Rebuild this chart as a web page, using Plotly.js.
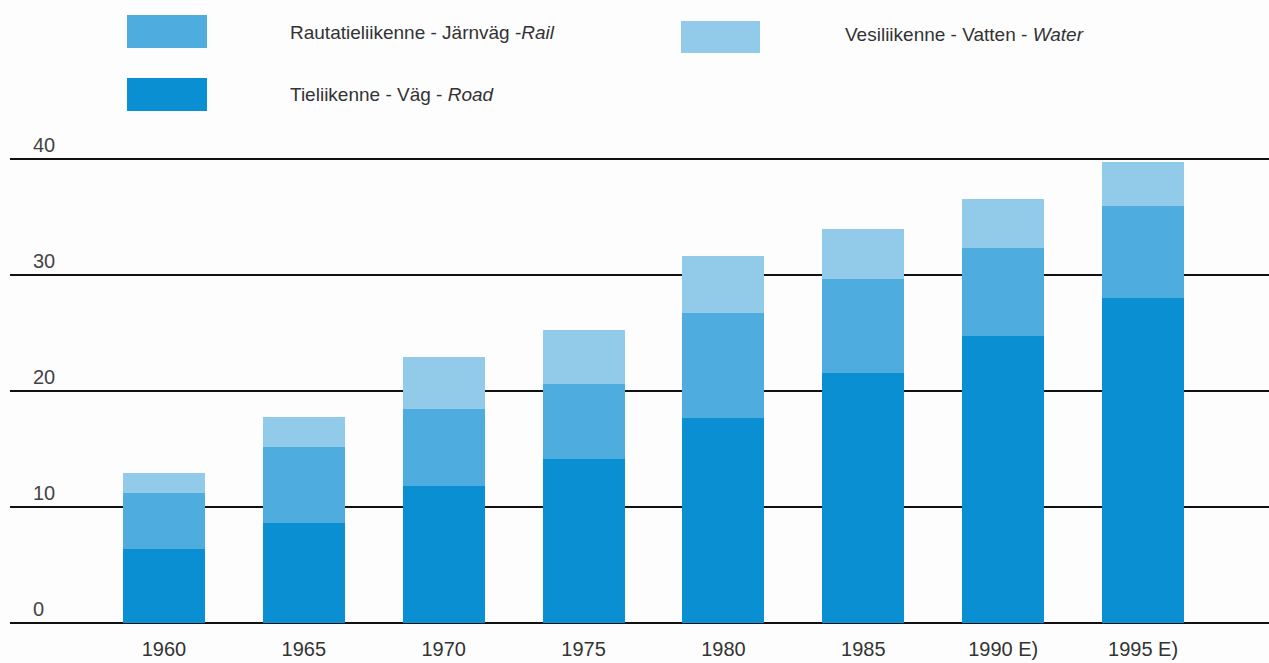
<!DOCTYPE html>
<html>
<head>
<meta charset="utf-8">
<script src="https://cdn.plot.ly/plotly-3.0.1.min.js"></script>
<style>html,body{margin:0;padding:0;background:#fff;}#chart{width:1269px;height:663px;}</style>
</head>
<body>
<div id="chart"></div>
<script>
// Data
const years = ["1960", "1965", "1970", "1975", "1980", "1985", "1990 E)", "1995 E)"];
const road  = [6.3, 8.6, 11.8, 14.1, 17.6, 21.5, 24.7, 28.0];
const rail  = [4.9, 6.5, 6.6, 6.5, 9.1, 8.1, 7.6, 7.9];
const water = [1.7, 2.6, 4.5, 4.6, 4.9, 4.3, 4.2, 3.8];
const seriesNames = {
  road: "Tieliikenne - Väg - <i>Road</i>",
  rail: "Rautatieliikenne - Järnväg -<i>Rail</i>",
  water: "Vesiliikenne - Vatten - <i>Water</i>"
};
const yTicks = [0, 10, 20, 30, 40];

const colRoad = "#0b8fd3", colRail = "#4eacdf", colWater = "#92caea";
const xIdx = years.map((_, i) => i);

// plot-area pixel helpers for legend placement
const W = 1269, H = 663, mL = 10, mR = 0, mT = 132, mB = 37;
const pw = W - mL - mR, ph = H - mT - mB;
const px = x => (x - mL) / pw;
const py = y => (H - mB - y) / ph;

const traces = [
  {type: "bar", x: xIdx, y: road, name: "Road", marker: {color: colRoad}, hoverinfo: "y"},
  {type: "bar", x: xIdx, y: rail, name: "Rail", marker: {color: colRail}, hoverinfo: "y"},
  {type: "bar", x: xIdx, y: water, name: "Water", marker: {color: colWater}, hoverinfo: "y"}
];

const legendItems = [
  {key: "rail", col: colRail, box: [127, 15, 207, 48], tx: 288, ty: 32},
  {key: "water", col: colWater, box: [681, 21, 760, 53], tx: 843, ty: 34},
  {key: "road", col: colRoad, box: [127, 78, 207, 111], tx: 288, ty: 95}
];

const shapes = legendItems.map(it => ({
  type: "rect", xref: "paper", yref: "paper",
  x0: px(it.box[0]), x1: px(it.box[2]), y0: py(it.box[3]), y1: py(it.box[1]),
  fillcolor: it.col, line: {width: 0}, layer: "above"
}));
const annotations = legendItems.map(it => ({
  xref: "paper", yref: "paper", x: px(it.tx), y: py(it.ty),
  xanchor: "left", yanchor: "middle", showarrow: false,
  text: seriesNames[it.key],
  font: {family: "Liberation Sans, Arial, sans-serif", size: 19, color: "#333"}
}));

const layout = {
  width: W, height: H,
  margin: {l: mL, r: mR, t: mT, b: mB, pad: 0},
  paper_bgcolor: "#fdfdfd", plot_bgcolor: "#fdfdfd",
  barmode: "stack", bargap: 0.414,
  showlegend: false,
  font: {family: "Liberation Sans, Arial, sans-serif", size: 20, color: "#333"},
  xaxis: {
    range: [-1.1, 7.9], tickmode: "array", tickvals: xIdx, ticktext: years,
    showgrid: false, zeroline: false, showline: false, ticks: "",
    ticklabelstandoff: 9, fixedrange: true
  },
  yaxis: {
    range: [-0.3, 42.3], tickmode: "array", tickvals: yTicks, ticktext: yTicks.map(String),
    showgrid: true, gridcolor: "#111", gridwidth: 2,
    zeroline: true, zerolinecolor: "#111", zerolinewidth: 2,
    showline: false, ticks: "",
    ticklabelposition: "inside top", ticklabelstandoff: 20,
    fixedrange: true
  },
  shapes: shapes,
  annotations: annotations
};

Plotly.newPlot("chart", traces, layout, {displayModeBar: false, staticPlot: true});
</script>
</body>
</html>
